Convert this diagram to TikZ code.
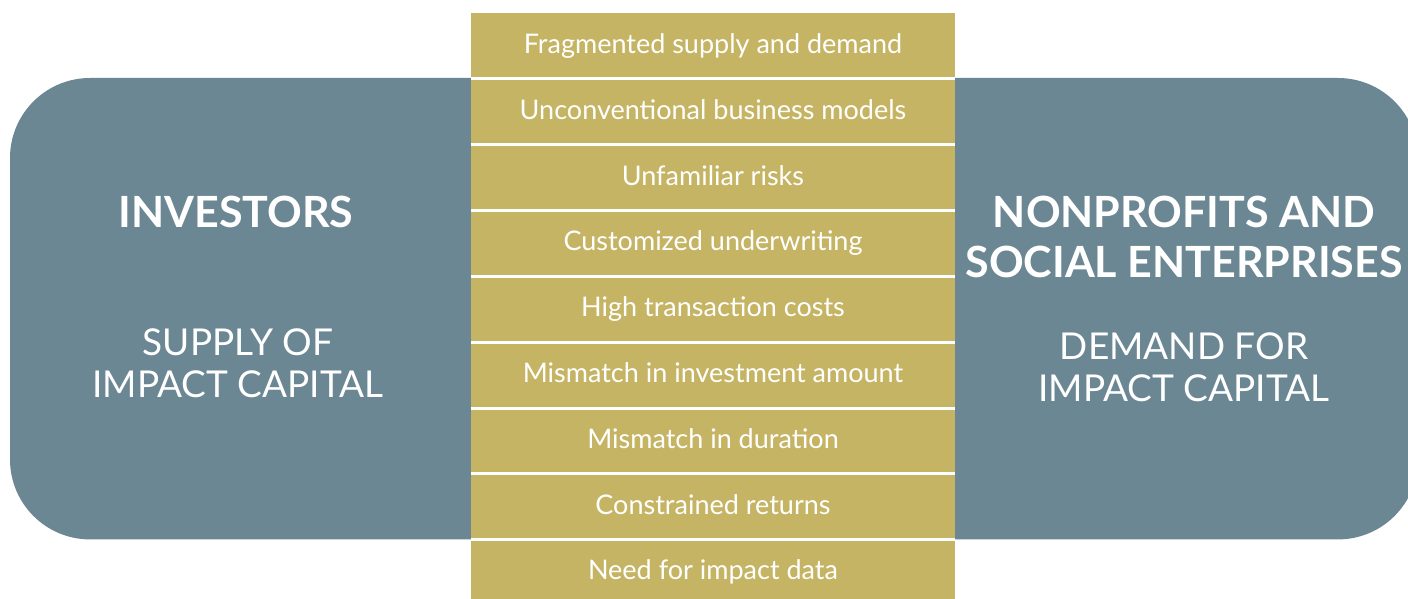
\documentclass[tikz,border=0pt]{standalone}
\usepackage{fontspec}
\setmainfont{Lato}
\definecolor{slate}{RGB}{107,135,147}
\definecolor{gold}{RGB}{197,180,100}

\begin{document}
\begin{tikzpicture}[x=1pt,y=-1pt]
\tikzstyle{side}=[fill=slate, rounded corners=80pt]
\tikzstyle{row}=[fill=gold, text=white, minimum width=484pt, minimum height=65.8pt, inner sep=0pt, text height=21pt, text depth=6pt, font=\fontsize{27}{32}\selectfont]
\tikzstyle{head}=[text=white, align=center, inner sep=0pt, font=\fontsize{43}{50}\bfseries\selectfont]
\tikzstyle{sub}=[text=white, align=center, inner sep=0pt, font=\fontsize{37}{42}\selectfont]
\tikzstyle{sep}=[draw=white, line width=3pt]

\clip (0,0) rectangle (1408,599);
\fill[white] (0,0) rectangle (1408,599);

% the two sides
\path[side] (10,78) rectangle (600,539.4);
\path[side] (830,78) rectangle (1418,539.4);

\node[head] (inv) at (236,212) {INVESTORS};
\node[sub] (supply) at (238,363) {SUPPLY OF\\IMPACT CAPITAL};
\node[head] (nonprof) at (1184,237) {NONPROFITS AND\\SOCIAL ENTERPRISES};
\node[sub] (demand) at (1184,367) {DEMAND FOR\\IMPACT CAPITAL};

% the gaps in between
\node[row] (r1) at (713,45.9) {Fragmented supply and demand};
\node[row] (r2) at (713,111.7) {Unconventional business models};
\node[row] (r3) at (713,177.5) {Unfamiliar risks};
\node[row] (r4) at (713,243.3) {Customized underwriting};
\node[row] (r5) at (713,309.1) {High transaction costs};
\node[row] (r6) at (713,374.9) {Mismatch in investment amount};
\node[row] (r7) at (713,440.7) {Mismatch in duration};
\node[row] (r8) at (713,506.5) {Constrained returns};
\node[row] (r9) at (713,572.3) {Need for impact data};

\path
(r1.south west) edge[sep] (r1.south east)
(r2.south west) edge[sep] (r2.south east)
(r3.south west) edge[sep] (r3.south east)
(r4.south west) edge[sep] (r4.south east)
(r5.south west) edge[sep] (r5.south east)
(r6.south west) edge[sep] (r6.south east)
(r7.south west) edge[sep] (r7.south east)
(r8.south west) edge[sep] (r8.south east);
\end{tikzpicture}
\end{document}
